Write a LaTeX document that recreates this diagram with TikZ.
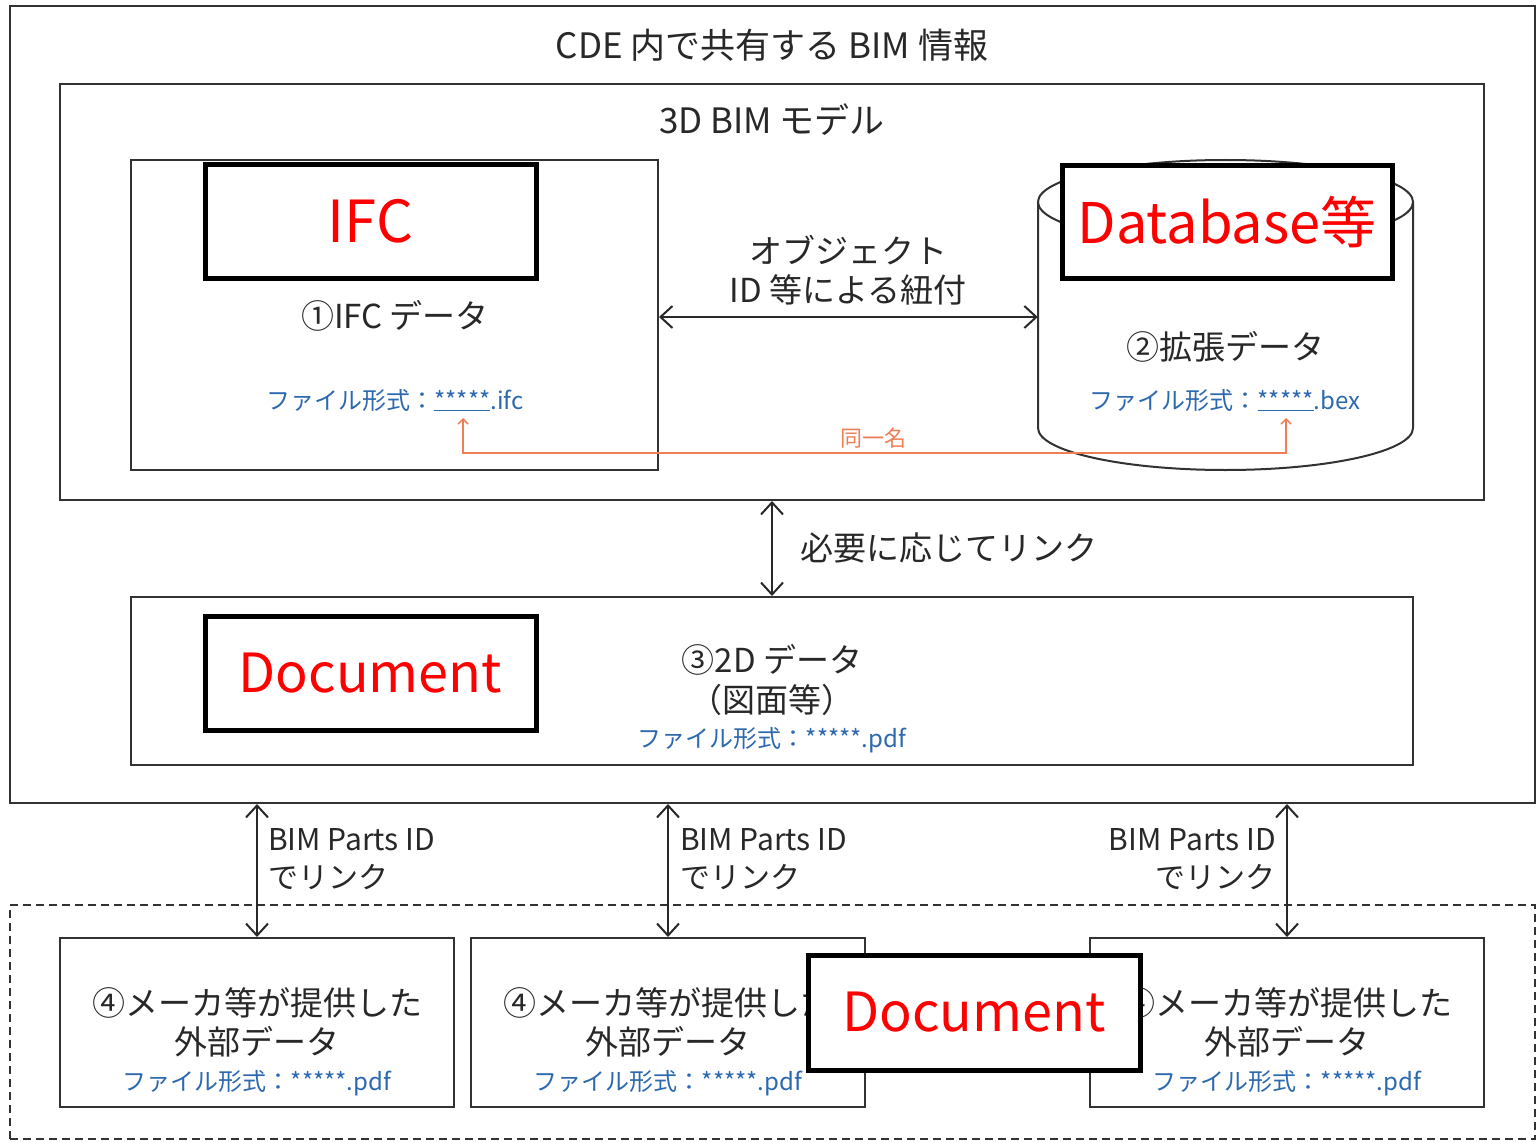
\documentclass[tikz,border=0pt]{standalone}
\usepackage{fontspec}
\newfontfamily\jp{Noto Sans CJK JP}
\usetikzlibrary{arrows.meta}
\definecolor{txt}{RGB}{40,40,40}
\definecolor{fmtblue}{RGB}{45,105,175}
\definecolor{orng}{RGB}{240,125,85}
\definecolor{edge}{RGB}{50,50,50}
\begin{document}
\begin{tikzpicture}[x=1pt,y=-1pt,
  box/.style={draw=edge, line width=2pt, inner sep=0pt, fill=white},
  tag/.style={draw=black, line width=5pt, fill=white, inner sep=0pt, text=red, font=\jp\fontsize{56}{60}\selectfont},
  lbl/.style={text=txt, font=\jp\fontsize{33}{39}\selectfont, inner sep=0pt, align=center},
  fmt/.style={text=fmtblue, font=\jp\fontsize{24}{28}\selectfont, inner sep=0pt},
  link/.style={draw=txt, line width=2pt, {Straight Barb[length=12pt,width=22pt]}-{Straight Barb[length=12pt,width=22pt]}},
]
\useasboundingbox[fill=white] (0,0) rectangle (1539,1142);

% containers
\node[box, minimum width=1525pt, minimum height=797pt] (cde) at (772.5,404.5) {};
\node[draw=edge, line width=1.8pt, dash pattern=on 8pt off 5pt, inner sep=0pt, minimum width=1525pt, minimum height=234pt] (ext) at (772.5,1022) {};
\node[lbl, font=\jp\fontsize{35}{40}\selectfont] (cdet) at (772,45) {CDE 内で共有する BIM 情報};

\node[box, minimum width=1424pt, minimum height=416pt] (bim) at (772,292) {};
\node[lbl, font=\jp\fontsize{35}{40}\selectfont] (bimt) at (772,120) {3D BIM モデル};

% IFC box
\node[box, minimum width=527pt, minimum height=310pt] (ifc) at (394.5,315) {};
\node[tag, minimum width=331pt, minimum height=113pt, font=\jp\fontsize{58}{60}\selectfont] (ifctag) at (370.5,221.5) {IFC};
\node[lbl] (ifct) at (395,316) {①IFC データ};
\node[fmt] (ifcf) at (395,400) {ファイル形式：\underline{*****}.ifc};

% cylinder
\node[minimum width=375pt, minimum height=310pt, inner sep=0pt] (cyl) at (1225.5,315) {};
\draw[edge, line width=2pt, fill=white] (1038,202) -- (1038,428)
  arc[start angle=180, end angle=360, x radius=187.5pt, y radius=42pt] -- (1413,202);
\draw[edge, line width=2pt, fill=white] (1225.5,202) ellipse[x radius=187.5pt, y radius=42pt];
\node[tag, minimum width=330pt, minimum height=112pt] (dbtag) at (1227,222) {Database等};
\node[lbl] (bext) at (1225,347) {②拡張データ};
\node[fmt] (bexf) at (1225,400) {ファイル形式：\underline{*****}.bex};

% link object ID
\node[lbl] (objt) at (848,270) {オブジェクト\\ID 等による紐付};
\coordinate (hy) at (848,317);
\draw[link] (ifc.east |- hy) -- (cyl.west |- hy);

% same name
\coordinate (ifcstar) at (463,418);
\coordinate (bexstar) at (1286,418);
\draw[orng, line width=1.5pt, {Straight Barb[length=5pt,width=10pt]}-{Straight Barb[length=5pt,width=10pt]}] (ifcstar) -- ++(0,35) -| (bexstar);
\node[text=orng, font=\jp\fontsize{22}{26}\selectfont, inner sep=0pt] (same) at (873,438) {同一名};

% 2D data
\node[box, minimum width=1282pt, minimum height=168pt] (d2) at (772,681) {};
\draw[link] (bim.south) -- (d2.north);
\node[lbl, anchor=west] (needt) at (800,548) {必要に応じてリンク};
\node[tag, minimum width=331pt, minimum height=114pt, font=\jp\fontsize{54}{60}\selectfont] (doc1) at (370.5,673) {Document};
\node[lbl] (d2t) at (772,660) {③2D データ};
\node[lbl] (d2s) at (772,700) {（図面等）};
\node[fmt] (d2f) at (772,740) {ファイル形式：*****.pdf};

% external data boxes
\node[box, minimum width=394pt, minimum height=169pt] (e1) at (257,1022.5) {};
\node[box, minimum width=394pt, minimum height=169pt] (e2) at (668,1022.5) {};
\node[box, minimum width=394pt, minimum height=169pt] (e3) at (1287,1022.5) {};
\foreach \n in {e1,e2,e3}{
  \node[lbl] (\n t) at ([yshift=0pt]\n.center) {④メーカ等が提供した\\外部データ};
  \node[fmt] (\n f) at ([yshift=-60.5pt]\n.center) {ファイル形式：*****.pdf};
}
\draw[link] (cde.south -| e1.north) -- (e1.north);
\draw[link] (cde.south -| e2.north) -- (e2.north);
\draw[link] (cde.south -| e3.north) -- (e3.north);
\node[lbl, align=left, anchor=west, font=\jp\fontsize{30}{38}\selectfont] (l1) at (268,859) {BIM Parts ID\\でリンク};
\node[lbl, align=left, anchor=west, font=\jp\fontsize{30}{38}\selectfont] (l2) at (680,859) {BIM Parts ID\\でリンク};
\node[lbl, align=right, anchor=east, font=\jp\fontsize{30}{38}\selectfont] (l3) at (1276,859) {BIM Parts ID\\でリンク};

\node[tag, minimum width=332pt, minimum height=115pt, font=\jp\fontsize{54}{60}\selectfont] (doc2) at (974,1012.5) {Document};
\end{tikzpicture}
\end{document}
